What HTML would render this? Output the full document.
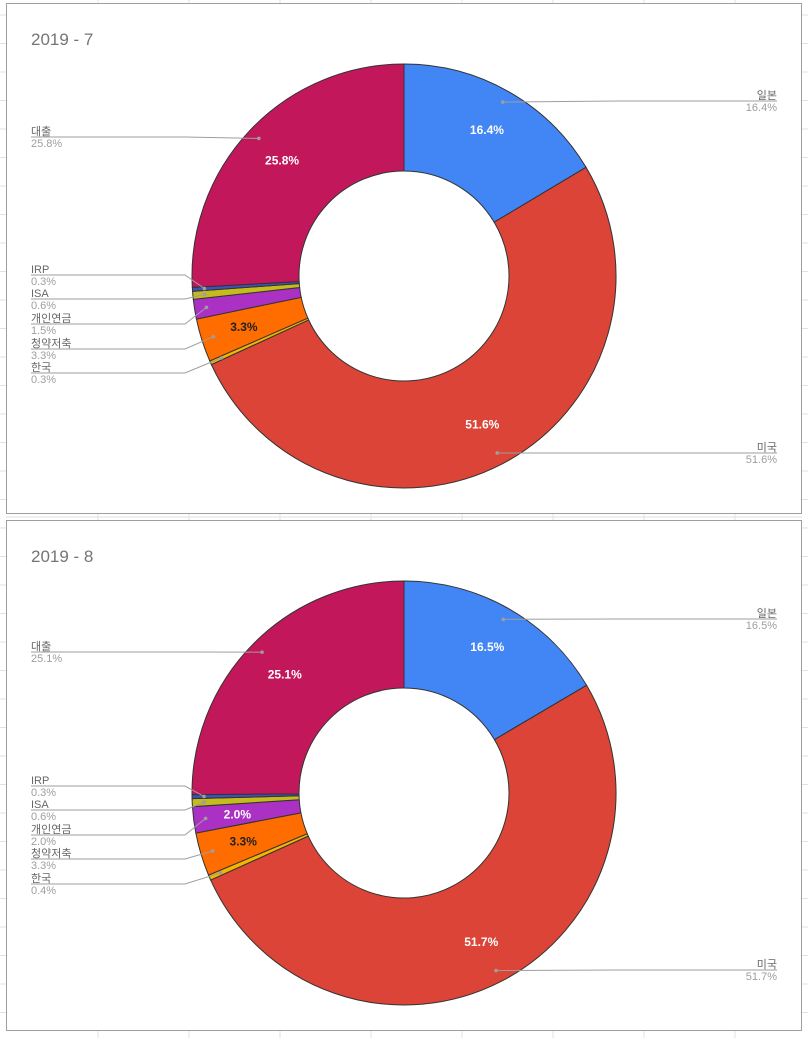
<!DOCTYPE html>
<html><head><meta charset="utf-8">
<style>
html,body{margin:0;padding:0;background:#fff;}
body{width:808px;height:1038px;overflow:hidden;position:relative;font-family:"Liberation Sans","Noto Sans CJK KR",sans-serif;}
svg{position:absolute;left:0;top:0;}
</style></head>
<body>
<svg id="root" width="808" height="1038" viewBox="0 0 808 1038"></svg>
<script>
const categories = ["일본","미국","한국","청약저축","개인연금","ISA","IRP","대출"];
const colors = ["#4285f4","#db4437","#f4b400","#ff6d00","#ab30c4","#c6bb1c","#3f51b5","#c2185b"];
const julyValues = [16.4,51.6,0.3,3.3,1.5,0.6,0.3,25.8];
const augValues = [16.5,51.7,0.4,3.3,2.0,0.6,0.3,25.1];
const titles = ["2019 - 7","2019 - 8"];

const NS="http://www.w3.org/2000/svg";
const svg=document.getElementById('root');
function mk(tag,attrs,parent){const e=document.createElementNS(NS,tag);for(const k in attrs)e.setAttribute(k,attrs[k]);(parent||svg).appendChild(e);return e;}

const bg=mk('g',{});


for(let y=15;y<1038;y+=28.5){mk('line',{x1:0,y1:y,x2:6,y2:y,stroke:'#e2e2e2'},bg);mk('line',{x1:802,y1:y,x2:808,y2:y,stroke:'#e2e2e2'},bg);}
mk('line',{x1:6,y1:517,x2:802,y2:517,stroke:'#e2e2e2'},bg);
[98,189,280,371,462,553,644,735].forEach(x=>{mk('line',{x1:x,y1:513,x2:x,y2:520,stroke:'#e2e2e2'},bg);mk('line',{x1:x,y1:1030,x2:x,y2:1038,stroke:'#e2e2e2'},bg);mk('line',{x1:x,y1:0,x2:x,y2:3,stroke:'#e2e2e2'},bg);});

function polar(cx,cy,r,frac){const a=frac*2*Math.PI;return [cx+r*Math.sin(a),cy-r*Math.cos(a)];}

function drawChart(idx,values,top,lineYs){
  const g=mk('g',{});
  
  
  const box=mk('rect',{x:6.5,y:top+0.5,width:795,height:510,fill:'#fff',stroke:'#9e9e9e'},g);
  
  
  const t=mk('text',{x:31,y:top+42,'font-size':17,fill:'#757575'},g);
  t.textContent=titles[idx];
  
  
  const cx=404,cy=top+273,R=212,r=105;
  const total=values.reduce((a,b)=>a+b,0);
  let cum=0;
  const mids=[];
  values.forEach((v,i)=>{
    const f0=cum/total,f1=(cum+v)/total;cum+=v;
    const [x0,y0]=polar(cx,cy,R,f0),[x1,y1]=polar(cx,cy,R,f1);
    const [x2,y2]=polar(cx,cy,r,f1),[x3,y3]=polar(cx,cy,r,f0);
    const large=(f1-f0)>0.5?1:0;
    const p=mk('path',{d:`M${x0},${y0} A${R},${R} 0 ${large} 1 ${x1},${y1} L${x2},${y2} A${r},${r} 0 ${large} 0 ${x3},${y3} Z`,fill:colors[i],stroke:'#333','stroke-width':1},g);
    
    
    mids.push((f0+f1)/2);
  });
  values.forEach((v,i)=>{
    if(v/total<0.02-1e-9)return;
    const [x,y]=polar(cx,cy,168,mids[i]);
    const tx=mk('text',{x:x,y:y+4,'font-size':12,'font-weight':'bold','text-anchor':'middle',fill:i===3?'#222':'#fff'},g);
    tx.textContent=v.toFixed(1)+'%';
    
    
  });
  values.forEach((v,i)=>{
    const [ax,ay]=polar(cx,cy,200,mids[i]);
    const ly=top+lineYs[i];
    const right=mids[i]<0.5;
    let pts;
    if(right){pts=`${ax},${ay} ${Math.max(ax,620)},${ly} 777,${ly}`;}
    else{pts=`31,${ly} 185,${ly} ${ax},${ay}`;}
    const l=mk('polyline',{points:pts,fill:'none',stroke:'#9e9e9e','stroke-width':1},g);
    
    
    const dot=mk('circle',{cx:ax,cy:ay,r:1.8,fill:'#9e9e9e'},g);
    
    
    const lx=right?777:31,anchor=right?'end':'start';
    const n=mk('text',{x:lx,y:ly-2,'font-size':11,fill:'#666','text-anchor':anchor},g);
    n.textContent=categories[i];
    
    
    const pc=mk('text',{x:lx,y:ly+10,'font-size':11,fill:'#9e9e9e','text-anchor':anchor},g);
    pc.textContent=v.toFixed(1)+'%';
    
    
  });
}
drawChart(0,julyValues,3,[98,450,370,346,321,296,272,134]);
drawChart(1,augValues,520,[99,450,364,339,315,290,266,132]);
</script>
</body></html>
